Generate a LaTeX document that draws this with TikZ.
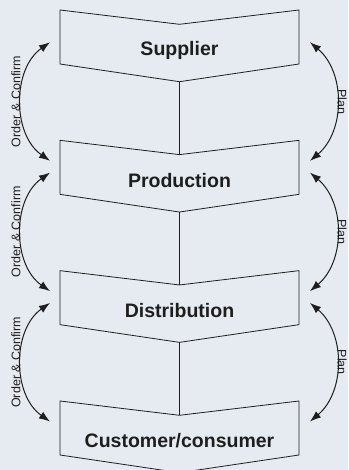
\documentclass[tikz,border=0pt]{standalone}
\usepackage{fontspec}
\setmainfont{Liberation Sans}
\usetikzlibrary{arrows.meta}
\definecolor{bgcol}{HTML}{E6EBF1}
\definecolor{inkcol}{HTML}{1E1E1E}
\begin{document}
\begin{tikzpicture}[x=1pt,y=-1pt]
\tikzstyle{stage}=[draw=inkcol,line width=0.8pt,line join=miter]
\tikzstyle{stagetext}=[text=inkcol,font=\fontsize{19.5}{22}\selectfont\bfseries]
\tikzstyle{flow}=[draw=inkcol,line width=1pt,{Latex[length=11pt,width=8pt]}-{Latex[length=11pt,width=8pt]}]
\tikzstyle{sidetext}=[text=inkcol,font=\fontsize{12.5}{14}\selectfont,inner sep=0.5pt,anchor=south]
\fill[bgcol] (0,0) rectangle (348,470);
\useasboundingbox (0,0) rectangle (348,470);
\foreach \n/\name [count=\i from 0] in {supplier/Supplier,production/Production,distribution/Distribution,customer/{Customer/consumer}}{
  \pgfmathsetmacro\t{10+130.33*\i}
  \draw[stage] (60,\t) -- (179.5,\t+14.3) -- (299,\t) -- (299,\t+54) -- (179.5,\t+71.7) -- (60,\t+54) -- cycle;
  \coordinate (\n-top) at (179.5,\t+14.3);
  \coordinate (\n-bot) at (179.5,\t+71.7);
  \coordinate (\n-wa) at (50,\t+20.5);
  \coordinate (\n-wb) at (50,\t+32.3);
  \coordinate (\n-ea) at (310,\t+20.5);
  \coordinate (\n-eb) at (310,\t+32.3);
  \node[stagetext] (\n) at (179.5,\t+40) {\name};
}
\foreach \a/\b in {supplier/production,production/distribution,distribution/customer}{
  \draw[stage] (\a-bot) -- (\b-top);
  \draw[flow] (\a-wb) to[bend right=55] node[sidetext,rotate=90] (order-\a) {Order \& Confirm} (\b-wa);
  \draw[flow] (\a-eb) to[bend left=50] node[sidetext,rotate=-90] (plan-\a) {Plan} (\b-ea);
}
\end{tikzpicture}
\end{document}
